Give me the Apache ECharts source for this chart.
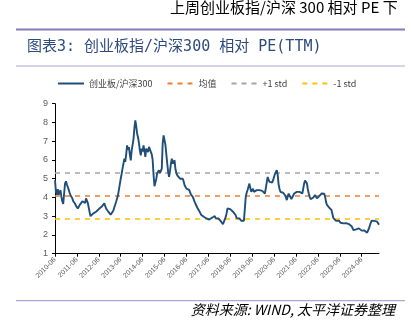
<!DOCTYPE html>
<html>
<head>
<meta charset="utf-8">
<script src="https://cdn.jsdelivr.net/npm/echarts@6/dist/echarts.min.js"></script>
<style>
html,body{margin:0;padding:0;background:#fff;}
#c{width:414px;height:324px;}
</style>
</head>
<body>
<div id="c"></div>
<script>
// ---- data: half-monthly readings, 2010-06 to 2025-03 ----
const startYear = 2010, startMonth = 6, pointCount = 356;
const categories = [];
for (let i = 0; i < pointCount; i++) {
  const t = startYear * 12 + (startMonth - 1) + Math.floor(i / 2);
  const y = Math.floor(t / 12), m = (t % 12) + 1;
  categories.push(y + '-' + (m < 10 ? '0' + m : m) + (i % 2 ? '-16' : '-01'));
}
const relativePE = [
  4.92, 4.3, 4.15, 4.44, 4.15, 4.25, 4.39, 4.03, 3.8, 3.65, 4.21, 4.74,
  4.86, 4.7, 4.56, 4.42, 4.25, 4.12, 4.21, 3.95, 3.8, 3.72, 3.66, 3.55,
  3.45, 3.41, 3.5, 3.59, 3.62, 3.68, 3.8, 3.86, 3.72, 3.7, 3.95, 3.85,
  3.7, 3.45, 3.2, 3.0, 2.9, 3.05, 3.15, 3.08, 3.1, 3.24, 3.28, 3.33,
  3.38, 3.41, 3.46, 3.5, 3.42, 3.5, 3.68, 3.55, 3.41, 3.38, 3.33, 3.2,
  3.12, 3.08, 3.06, 3.18, 3.3, 3.48, 3.62, 3.77, 3.95, 4.12, 4.4, 4.7,
  5.0, 5.25, 5.55, 5.8, 6.07, 5.9, 6.3, 6.78, 6.55, 6.69, 6.3, 5.98,
  6.5, 6.45, 7.1, 7.7, 8.11, 7.8, 7.4, 7.2, 6.9, 6.5, 6.25, 6.6,
  6.45, 6.78, 6.5, 6.16, 6.6, 6.5, 6.42, 6.7, 6.75, 6.6, 6.3, 6.0,
  5.2, 4.6, 4.5, 5.0, 5.3, 5.4, 5.45, 5.3, 5.4, 5.54, 6.9, 7.31,
  7.22, 6.8, 6.3, 5.8, 5.35, 5.1, 5.4, 5.8, 6.07, 5.8, 5.8, 5.98,
  5.5, 5.3, 5.18, 5.27, 5.1, 5.0, 4.95, 4.92, 5.0, 4.85, 4.65, 4.55,
  4.47, 4.52, 4.56, 4.4, 4.3, 4.15, 4.1, 4.03, 3.9, 3.77, 3.65, 3.56,
  3.45, 3.38, 3.28, 3.2, 3.08, 3.05, 3.01, 2.97, 2.94, 2.9, 2.88, 2.92,
  2.94, 2.82, 2.85, 2.88, 2.92, 2.94, 2.98, 3.01, 2.9, 2.87, 2.83, 2.88,
  2.94, 2.8, 2.71, 2.64, 2.58, 2.7, 2.8, 2.95, 3.15, 3.41, 3.38, 3.33,
  3.38, 3.41, 3.3, 3.24, 3.3, 3.33, 3.05, 2.9, 2.8, 2.85, 2.88, 2.8,
  2.76, 2.74, 2.71, 2.76, 2.83, 4.03, 4.25, 4.4, 4.47, 4.74, 4.5, 4.3,
  4.4, 4.47, 4.3, 4.21, 4.35, 4.39, 4.45, 4.47, 4.39, 4.35, 4.3, 4.35,
  4.39, 4.3, 4.21, 4.5, 4.8, 5.09, 4.95, 4.83, 4.88, 4.92, 4.8, 4.92,
  5.1, 5.25, 5.3, 5.45, 5.2, 4.7, 4.45, 4.3, 4.35, 4.35, 4.25, 4.21,
  4.12, 4.0, 3.86, 4.05, 4.21, 4.1, 4.03, 3.92, 3.86, 4.1, 4.21, 4.12,
  4.2, 4.3, 4.25, 4.21, 4.3, 4.39, 4.3, 4.21, 4.3, 4.75, 4.9, 5.0,
  4.75, 4.45, 4.21, 4.05, 3.9, 3.8, 3.85, 4.0, 4.08, 4.12, 4.03, 3.95,
  4.0, 4.03, 4.1, 4.15, 4.21, 4.25, 4.3, 4.2, 4.03, 3.75, 3.6, 3.52,
  3.48, 3.43, 3.38, 3.32, 3.1, 2.9, 2.85, 2.8, 2.75, 2.71, 2.74, 2.76,
  2.68, 2.65, 2.7, 2.68, 2.62, 2.64, 2.65, 2.63, 2.62, 2.6, 2.58, 2.55,
  2.5, 2.47, 2.38, 2.26, 2.3, 2.35, 2.3, 2.26, 2.3, 2.35, 2.3, 2.26,
  2.23, 2.26, 2.3, 2.24, 2.18, 2.15, 2.12, 2.2, 2.35, 2.5, 2.65, 2.76,
  2.74, 2.71, 2.75, 2.8, 2.75, 2.71, 2.65, 2.55
];
const meanValue = 4.07;
const plus1Std = 5.3;
const minus1Std = 2.84;
const seriesNames = ['创业板/沪深300', '均值', '+1 std', '-1 std'];
const yTicks = { min: 1, max: 9, interval: 1 };

// ---- chart ----
const chart = echarts.init(document.getElementById('c'), null, { renderer: 'canvas' });
const cjk = '"Noto Sans CJK SC", "Noto Sans", sans-serif';
const mixed = '"DejaVu Sans Mono", "Noto Sans CJK SC", monospace';

function refSeries(name, value, color) {
  return {
    name: name,
    type: 'line',
    data: [],
    symbol: 'none',
    lineStyle: { color: color, width: 1.6, type: [5, 5] },
    itemStyle: { color: color },
    markLine: {
      silent: true,
      symbol: 'none',
      label: { show: false },
      lineStyle: { color: color, width: 1.6, type: [5, 5] },
      data: [{ yAxis: value }]
    }
  };
}

chart.setOption({
  animation: false,
  backgroundColor: '#fff',
  textStyle: { fontFamily: cjk },
  grid: { left: 55, right: 35, top: 103.7, bottom: 70.3, containLabel: false },
  legend: {
    left: 57,
    top: 79,
    padding: 0,
    itemWidth: 26,
    itemHeight: 10,
    itemGap: 14,
    itemStyle: { opacity: 0, borderWidth: 0 },
    textStyle: { fontSize: 9, color: '#404040', fontFamily: cjk },
    data: seriesNames
  },
  xAxis: {
    type: 'category',
    data: categories,
    boundaryGap: false,
    axisLine: { lineStyle: { color: '#000', width: 1 } },
    axisTick: { interval: 23, length: 3, lineStyle: { color: '#000' } },
    axisLabel: {
      interval: 23, rotate: 45, fontSize: 7, color: '#595959', margin: 5,
      fontFamily: 'Liberation Sans, sans-serif',
      formatter: v => v.slice(0, 7)
    },
    splitLine: { show: false }
  },
  yAxis: {
    type: 'value',
    min: yTicks.min,
    max: yTicks.max,
    interval: yTicks.interval,
    axisLine: { show: true, lineStyle: { color: '#000', width: 1 } },
    axisTick: { show: true, length: 3, lineStyle: { color: '#000' } },
    axisLabel: { fontSize: 9, color: '#595959', margin: 7, fontFamily: 'Liberation Sans, sans-serif' },
    splitLine: { show: false }
  },
  series: [
    {
      name: seriesNames[0],
      type: 'line',
      data: relativePE,
      symbol: 'none',
      lineStyle: { color: '#1f4e79', width: 1.9 },
      itemStyle: { color: '#1f4e79' },
      z: 5
    },
    refSeries(seriesNames[1], meanValue, '#ed7d31'),
    refSeries(seriesNames[2], plus1Std, '#a5a5a5'),
    refSeries(seriesNames[3], minus1Std, '#ffc000')
  ],
  graphic: [
    { type: 'text', left: 170, top: 0, style: { text: '上周创业板指/沪深 300 相对 PE 下', font: '15px ' + cjk, fill: '#000' } },
    { type: 'rect', shape: { x: 16, y: 28.5, width: 389, height: 2 }, style: { fill: '#7f7fb2' } },
    { type: 'text', left: 27, top: 40, style: { text: '图表3: 创业板指/沪深300 相对 PE(TTM)', font: '15px ' + mixed, fill: '#2e4b7e' } },
    { type: 'rect', shape: { x: 16, y: 65.5, width: 389, height: 1 }, style: { fill: '#a9a9d4' } },
    { type: 'rect', shape: { x: 16, y: 300, width: 389, height: 1.2 }, style: { fill: '#a9a9d4' } },
    { type: 'text', right: 19, top: 303, style: { text: '资料来源: WIND, 太平洋证券整理', font: 'italic 14px ' + cjk, fill: '#000' } }
  ]
});
</script>
</body>
</html>
